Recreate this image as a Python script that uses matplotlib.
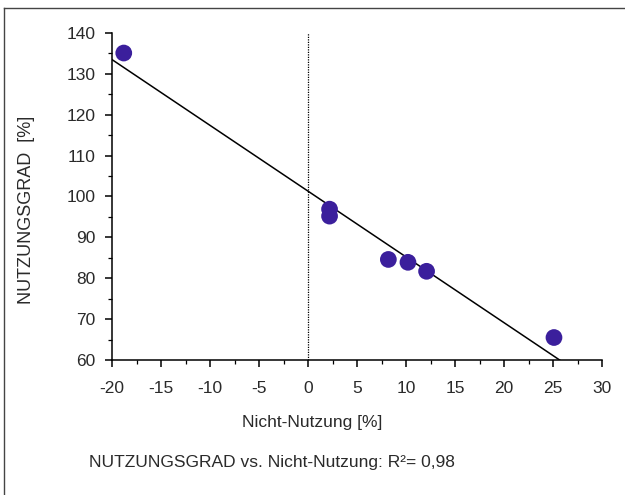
import numpy as np
import matplotlib
matplotlib.use("Agg")
import matplotlib.pyplot as plt
from matplotlib.ticker import MultipleLocator
from matplotlib.lines import Line2D

# Werte
nicht_nutzung = [-18.8, 2.2, 2.2, 8.2, 10.2, 12.1, 25.1]
nutzungsgrad = [135.1, 96.9, 95.2, 84.6, 83.9, 81.7, 65.5]
x_ticks = [-20, -15, -10, -5, 0, 5, 10, 15, 20, 25, 30]
y_ticks = [60, 70, 80, 90, 100, 110, 120, 130, 140]

plt.rcParams['font.family'] = ['Liberation Sans', 'DejaVu Sans']
plt.rcParams['axes.unicode_minus'] = False

fig = plt.figure(figsize=(6.25, 4.95), dpi=100)
ax = fig.add_axes([112/625, 1-360/495, 490/625, 327/495])

# Regressionsgerade
b, a = np.polyfit(nicht_nutzung, nutzungsgrad, 1)
xl = np.array([-20, 30])
ax.plot(xl, a + b*xl, color='black', lw=1.1, zorder=2)

ax.axvline(0, color='black', lw=0.9, ls=(0, (1, 1)), zorder=1)
ax.scatter(nicht_nutzung, nutzungsgrad, s=145, color='#3b1f9c', zorder=3,
           edgecolors='none')

ax.set_xlim(-20, 30)
ax.set_ylim(60, 140)
ax.set_xticks(x_ticks)
ax.set_yticks(y_ticks)
ax.xaxis.set_minor_locator(MultipleLocator(2.5))
ax.yaxis.set_minor_locator(MultipleLocator(5))
ax.spines['top'].set_visible(False)
ax.spines['right'].set_visible(False)
for s in ['left', 'bottom']:
    ax.spines[s].set_linewidth(1.1)
ax.tick_params(which='major', direction='out', length=5, width=1.1,
               labelsize=12.5, pad=7, colors='black')
ax.tick_params(which='minor', direction='out', length=3, width=0.9)
ax.tick_params(axis='x', which='major', pad=10)
ax.tick_params(axis='both', labelcolor='#2a2a2a')

fig.text(27/625, 1-210/495, 'NUTZUNGSGRAD  [%]', rotation=90,
         ha='center', va='center', fontsize=13, color='#2a2a2a')
fig.text(312/625, 1-423/495, 'Nicht-Nutzung [%]', ha='center',
         va='center', fontsize=12.5, color='#2a2a2a')
fig.text(89/625, 1-462/495, 'NUTZUNGSGRAD vs. Nicht-Nutzung: R²= 0,98',
         ha='left', va='center', fontsize=12.5, color='#2a2a2a')

# Rahmen oben und links
fig.add_artist(Line2D([4/625, 1], [1-8/495, 1-8/495], color='#444444',
                      lw=1.0, transform=fig.transFigure))
fig.add_artist(Line2D([4/625, 4/625], [0, 1-8/495], color='#444444',
                      lw=1.0, transform=fig.transFigure))

fig.savefig('out.png', dpi=100)
